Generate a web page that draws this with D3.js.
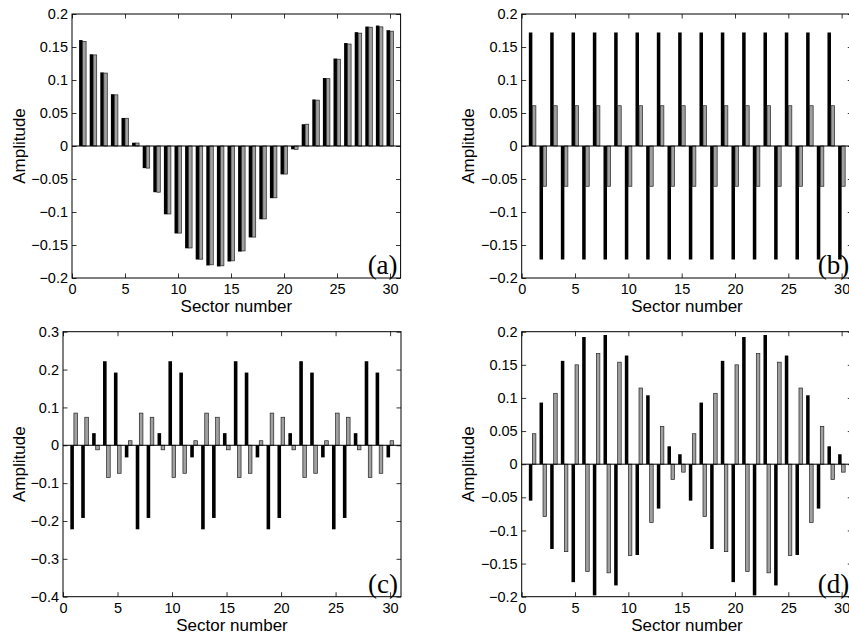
<!DOCTYPE html>
<html>
<head>
<meta charset="utf-8">
<script src="https://cdn.jsdelivr.net/npm/d3@7"></script>
<style>
  body { margin: 0; background: #fff; }
  svg { display: block; }
  .tick text { font-family: "Liberation Sans", Arial, sans-serif; font-size: 14.5px; fill: #000; }
  .axis-label { font-family: "Liberation Sans", Arial, sans-serif; font-size: 17px; fill: #000; }
  .panel-tag { font-family: "Liberation Serif", "Times New Roman", serif; font-size: 27px; fill: #000; }
</style>
</head>
<body>
<svg id="chart" width="849" height="635"></svg>
<script>
// sector numbers on the x axis
const sectors = [1, 2, 3, 4, 5, 6, 7, 8, 9, 10, 11, 12, 13, 14, 15,
                 16, 17, 18, 19, 20, 21, 22, 23, 24, 25, 26, 27, 28, 29, 30];

// panel (a)
const aBlack = [0.1605, 0.139, 0.1115, 0.0785, 0.0425, 0.005, -0.0335, -0.07, -0.1035, -0.1325,
                -0.155, -0.172, -0.181, -0.1825, -0.175, -0.16, -0.1385, -0.111, -0.079, -0.043,
                -0.005, 0.033, 0.0705, 0.103, 0.1325, 0.156, 0.1725, 0.181, 0.1825, 0.1755];
const aGray = [0.1585, 0.138, 0.1105, 0.0775, 0.042, 0.0045, -0.0335, -0.07, -0.103, -0.132,
               -0.1545, -0.1715, -0.18, -0.1815, -0.174, -0.159, -0.138, -0.1105, -0.0785, -0.0425,
               -0.005, 0.033, 0.0695, 0.102, 0.1315, 0.1545, 0.171, 0.18, 0.1805, 0.174];

// panel (b)
const bBlack = [0.172, -0.172, 0.172, -0.172, 0.172, -0.172, 0.172, -0.172, 0.172, -0.172,
                0.172, -0.172, 0.172, -0.172, 0.172, -0.172, 0.172, -0.172, 0.172, -0.172,
                0.172, -0.172, 0.172, -0.172, 0.172, -0.172, 0.172, -0.172, 0.172, -0.172];
const bGray = [0.061, -0.061, 0.061, -0.061, 0.061, -0.061, 0.061, -0.061, 0.061, -0.061,
               0.061, -0.061, 0.061, -0.061, 0.061, -0.061, 0.061, -0.061, 0.061, -0.061,
               0.061, -0.061, 0.061, -0.061, 0.061, -0.061, 0.061, -0.061, 0.061, -0.061];

// panel (c)
const cBlack = [-0.222, -0.192, 0.032, 0.222, 0.192, -0.032, -0.222, -0.192, 0.032, 0.222,
                0.192, -0.032, -0.222, -0.192, 0.032, 0.222, 0.192, -0.032, -0.222, -0.192,
                0.032, 0.222, 0.192, -0.032, -0.222, -0.192, 0.032, 0.222, 0.192, -0.032];
const cGray = [0.085, 0.074, -0.012, -0.085, -0.074, 0.012, 0.085, 0.074, -0.012, -0.085,
               -0.074, 0.012, 0.085, 0.074, -0.012, -0.085, -0.074, 0.012, 0.085, 0.074,
               -0.012, -0.085, -0.074, 0.012, 0.085, 0.074, -0.012, -0.085, -0.074, 0.012];

// panel (d)
const dBlack = [-0.055, 0.093, -0.128, 0.156, -0.178, 0.192, -0.198, 0.195, -0.183, 0.164,
                -0.137, 0.104, -0.067, 0.027, 0.015, -0.055, 0.093, -0.128, 0.156, -0.178,
                0.192, -0.198, 0.195, -0.183, 0.164, -0.137, 0.104, -0.067, 0.027, 0.015];
const dGray = [0.046, -0.079, 0.107, -0.132, 0.150, -0.162, 0.167, -0.164, 0.154, -0.138,
               0.115, -0.088, 0.057, -0.023, -0.012, 0.046, -0.079, 0.107, -0.132, 0.150,
               -0.162, 0.167, -0.164, 0.154, -0.138, 0.115, -0.088, 0.057, -0.023, -0.012];

// tick values and labels
const xTicks = [0, 5, 10, 15, 20, 25, 30];
const yTicksSmall = [-0.2, -0.15, -0.1, -0.05, 0, 0.05, 0.1, 0.15, 0.2];
const yLabelsSmall = ["\u22120.2", "\u22120.15", "\u22120.1", "\u22120.05", "0", "0.05", "0.1", "0.15", "0.2"];
const yTicksWide = [-0.4, -0.3, -0.2, -0.1, 0, 0.1, 0.2, 0.3];
const yLabelsWide = ["\u22120.4", "\u22120.3", "\u22120.2", "\u22120.1", "0", "0.1", "0.2", "0.3"];

const panels = [
    { tag: "(a)", black: aBlack, gray: aGray, yDomain: [-0.2, 0.2], yTicks: yTicksSmall, yLabels: yLabelsSmall,
      left: 72, right: 400.6, top: 14, bottom: 278, ylabX: 25 },
    { tag: "(b)", black: bBlack, gray: bGray, yDomain: [-0.2, 0.2], yTicks: yTicksSmall, yLabels: yLabelsSmall,
      left: 521.7, right: 852.3, top: 14, bottom: 278, ylabX: 474 },
    { tag: "(c)", black: cBlack, gray: cGray, yDomain: [-0.4, 0.3], yTicks: yTicksWide, yLabels: yLabelsWide,
      left: 63, right: 401, top: 331.7, bottom: 596.7, ylabX: 25 },
    { tag: "(d)", black: dBlack, gray: dGray, yDomain: [-0.2, 0.2], yTicks: yTicksSmall, yLabels: yLabelsSmall,
      left: 521.7, right: 852.3, top: 331.7, bottom: 596.7, ylabX: 474 }
];

const svg = d3.select("#chart");
const barW = 0.33;   // bar width in sector units
const tickLen = 4.5;

panels.forEach(p => {
    const x = d3.scaleLinear().domain([0, 31]).range([p.left, p.right]);
    const y = d3.scaleLinear().domain(p.yDomain).range([p.bottom, p.top]);
    const g = svg.append("g");

    // bars: black one left of the sector number, gray one right of it
    const rows = sectors.map((s, i) => ({ s: s, b: p.black[i], w: p.gray[i] }));

    g.append("g").selectAll("rect")
        .data(rows)
        .enter().append("rect")
        .attr("x", d => x(d.s - barW))
        .attr("width", d => x(d.s) - x(d.s - barW))
        .attr("y", d => y(Math.max(0, d.b)))
        .attr("height", d => Math.abs(y(d.b) - y(0)))
        .attr("fill", "#000");

    g.append("g").selectAll("rect")
        .data(rows)
        .enter().append("rect")
        .attr("x", d => x(d.s))
        .attr("width", d => x(d.s + barW) - x(d.s))
        .attr("y", d => y(Math.max(0, d.w)))
        .attr("height", d => Math.abs(y(d.w) - y(0)))
        .attr("fill", "#a0a0a0")
        .attr("stroke", "#222")
        .attr("stroke-width", 0.7);

    // zero baseline
    g.append("line")
        .attr("x1", x(0)).attr("x2", x(31))
        .attr("y1", y(0)).attr("y2", y(0))
        .attr("stroke", "#000").attr("stroke-width", 1);

    // axes with inward ticks on all four sides
    g.append("g")
        .attr("transform", `translate(0,${p.bottom})`)
        .call(d3.axisBottom(x).tickValues(xTicks).tickSizeInner(-tickLen).tickSizeOuter(0).tickPadding(6));
    g.append("g")
        .attr("transform", `translate(0,${p.top})`)
        .call(d3.axisTop(x).tickValues(xTicks).tickSizeInner(-tickLen).tickSizeOuter(0).tickFormat(""));
    g.append("g")
        .attr("transform", `translate(${p.left},0)`)
        .call(d3.axisLeft(y).tickValues(p.yTicks).tickSizeInner(-tickLen).tickSizeOuter(0).tickPadding(4)
            .tickFormat((d, i) => p.yLabels[i]));
    g.append("g")
        .attr("transform", `translate(${p.right},0)`)
        .call(d3.axisRight(y).tickValues(p.yTicks).tickSizeInner(-tickLen).tickSizeOuter(0).tickFormat(""));

    g.selectAll(".domain").remove();
    g.selectAll(".tick line").attr("stroke", "#000").attr("stroke-width", 0.8);

    // frame
    g.append("rect")
        .attr("x", p.left).attr("y", p.top)
        .attr("width", p.right - p.left).attr("height", p.bottom - p.top)
        .attr("fill", "none").attr("stroke", "#000").attr("stroke-width", 1);

    // labels
    g.append("text")
        .attr("class", "axis-label")
        .attr("x", x(15.5)).attr("y", p.bottom + 34)
        .attr("text-anchor", "middle")
        .text("Sector number");

    g.append("text")
        .attr("class", "axis-label")
        .attr("transform", `translate(${p.ylabX},${(p.top + p.bottom) / 2}) rotate(-90)`)
        .attr("text-anchor", "middle")
        .text("Amplitude");

    g.append("text")
        .attr("class", "panel-tag")
        .attr("x", x(31) - 3).attr("y", p.bottom - 4)
        .attr("text-anchor", "end")
        .text(p.tag);
});
</script>
</body>
</html>
